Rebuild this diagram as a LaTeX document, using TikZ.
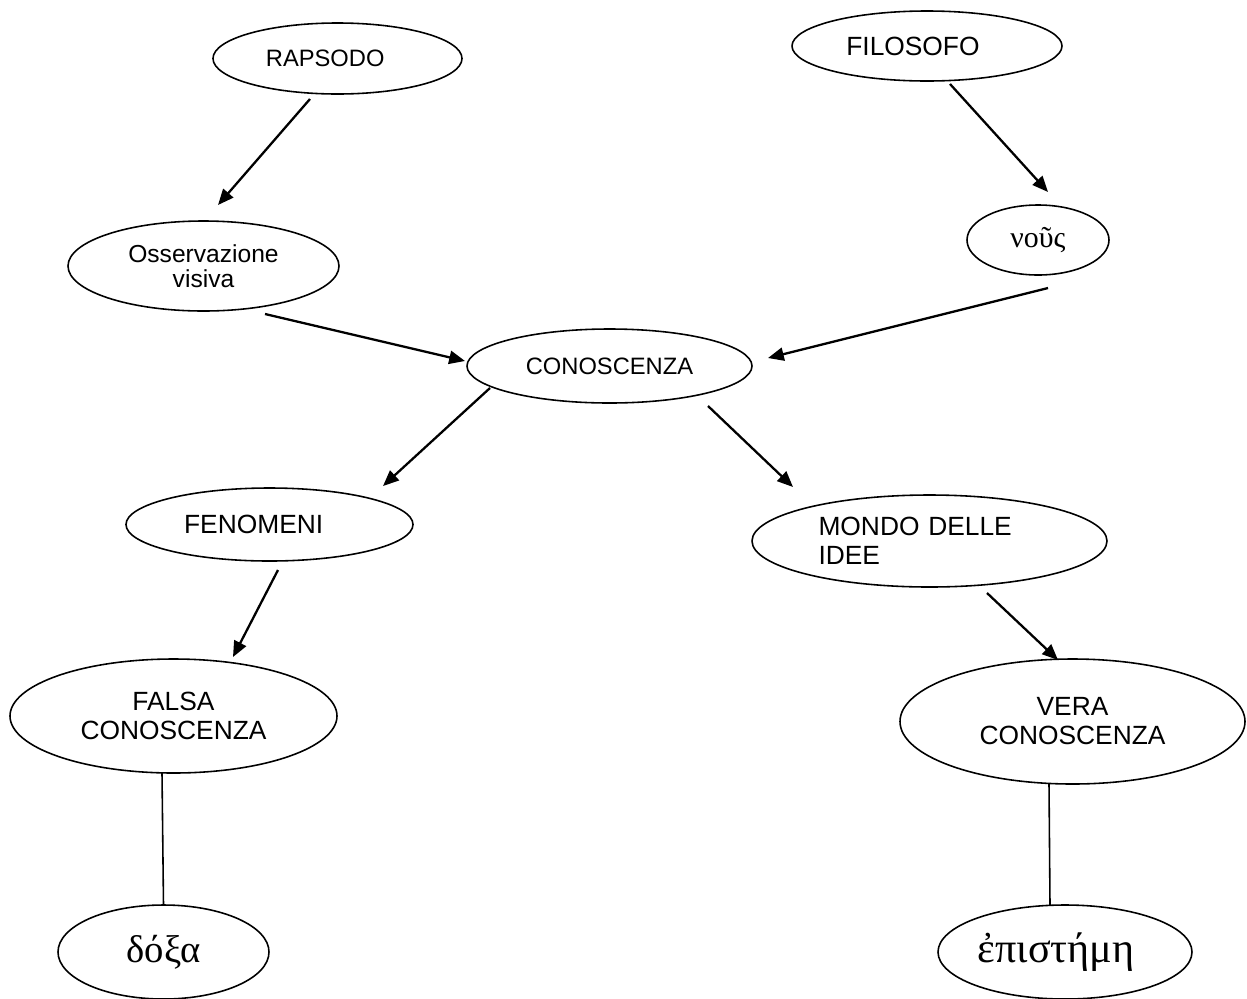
\documentclass[tikz,border=0pt]{standalone}
\usepackage{fontspec}
\setmainfont{Liberation Sans}
\newfontfamily\grfont{Liberation Serif}
\usetikzlibrary{shapes.geometric,arrows.meta}
\tikzset{mappa/.style={x=0.02cm,y=-0.02cm},
  bolla/.style 2 args={draw,ellipse,line width=0.9pt,inner sep=0pt,align=center,
    minimum width=#1*0.02cm,minimum height=#2*0.02cm,font=\fontsize{13.5}{14.5}\selectfont},
  grande/.style={font=\fontsize{15}{16.5}\selectfont},
  greco/.style={font=\grfont\fontsize{#1}{#1}\selectfont},
  freccia/.style={line width=1.3pt,-{Triangle[length=9pt,width=7.5pt]}},
  filo/.style={line width=0.9pt}}

\begin{document}
\begin{tikzpicture}[mappa]
    \useasboundingbox (0,0) rectangle (1247,998);
    \node[bolla={249}{71}] (rap) at (337.5,58.5) {RAPSODO\hspace*{14pt}};
    \node[bolla={270}{70},grande] (fil) at (927,46) {FILOSOFO\hspace*{16pt}};
    \node[bolla={271}{90},font=\fontsize{14}{14.2}\selectfont] (oss) at (203.5,266) {Osservazione\\visiva};
    \node[bolla={142}{70},greco=17] (nou) at (1038,240) {νοῦς};
    \node[bolla={285}{74}] (con) at (609.5,366) {CONOSCENZA};
    \node[bolla={287}{73},grande] (fen) at (269.5,524.5) {FENOMENI\hspace*{18pt}};
    \node[bolla={355}{92},grande,text width=4.44cm,align=left] (mon) at (929.5,541) {MONDO DELLE\\IDEE};
    \node[bolla={327}{114},grande] (fal) at (173.5,716) {FALSA\\CONOSCENZA};
    \node[bolla={345}{125},grande] (ver) at (1072.5,721.5) {VERA\\CONOSCENZA};
    \node[bolla={211}{94},greco=22] (dox) at (163.5,952) {δόξα};
    \node[bolla={254}{94},greco=24] (epi) at (1065,952) {ἐπιστήμη\hspace*{10pt}};
    % frecce
    \draw[freccia] ([shift={(-27.5,40.5)}]rap.center) -- ([shift={(14.5,-61)}]oss.center);
    \draw[freccia] ([shift={(61.5,48)}]oss.center) -- ([shift={(-144.5,-5)}]con.center);
    \draw[freccia] ([shift={(23,38)}]fil.center) -- ([shift={(10,-48)}]nou.center);
    \draw[freccia] ([shift={(10,48)}]nou.center) -- ([shift={(158.5,-8)}]con.center);
    \draw[freccia] ([shift={(-119.5,22)}]con.center) -- ([shift={(113.5,-38.5)}]fen.center);
    \draw[freccia] ([shift={(98.5,40)}]con.center) -- ([shift={(-136.5,-54)}]mon.center);
    \draw[freccia] ([shift={(8.5,45.5)}]fen.center) -- ([shift={(59.5,-59)}]fal.center);
    \draw[freccia] ([shift={(57.5,52)}]mon.center) -- ([shift={(-14.5,-61.5)}]ver.center);
    \draw[filo] ([shift={(-11.5,57)}]fal.center) -- ([shift={(0,-47)}]dox.center);
    \draw[filo] ([shift={(-23.5,62.5)}]ver.center) -- ([shift={(-15,-47)}]epi.center);
\end{tikzpicture}
\end{document}
